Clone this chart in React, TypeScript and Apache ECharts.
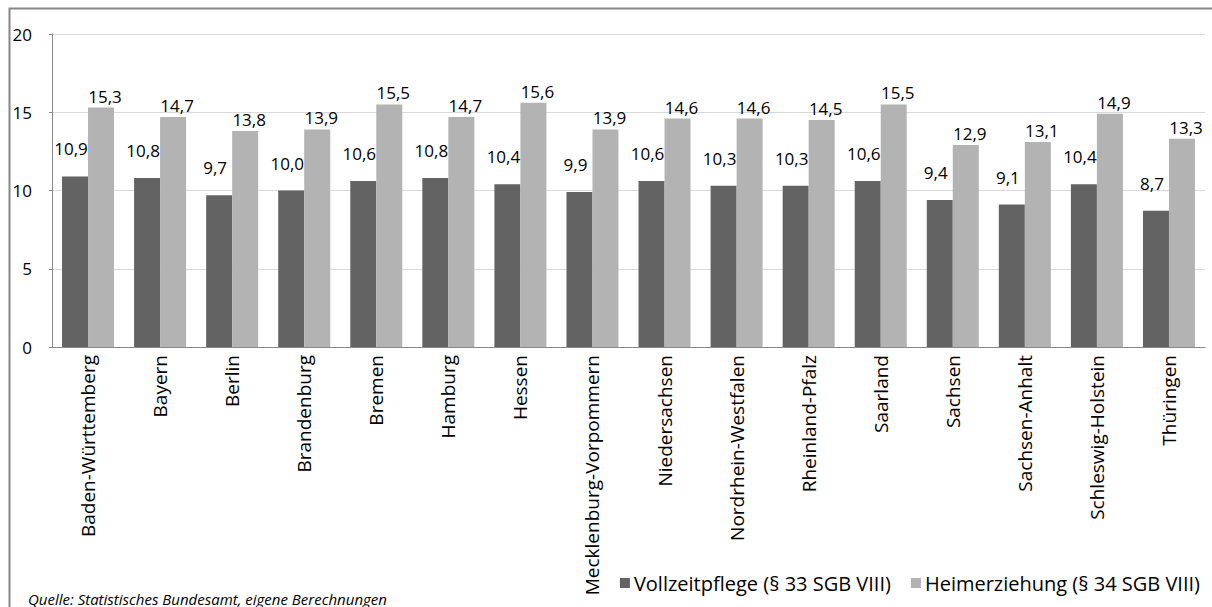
import React, { useEffect, useRef } from "react";
import * as echarts from "echarts";

const categories = [
  "Baden-Württemberg", "Bayern", "Berlin", "Brandenburg", "Bremen", "Hamburg", "Hessen",
  "Mecklenburg-Vorpommern", "Niedersachsen", "Nordrhein-Westfalen", "Rheinland-Pfalz",
  "Saarland", "Sachsen", "Sachsen-Anhalt", "Schleswig-Holstein", "Thüringen",
];
const vollzeitpflege = [10.9, 10.8, 9.7, 10.0, 10.6, 10.8, 10.4, 9.9, 10.6, 10.3, 10.3, 10.6, 9.4, 9.1, 10.4, 8.7];
const heimerziehung = [15.3, 14.7, 13.8, 13.9, 15.5, 14.7, 15.6, 13.9, 14.6, 14.6, 14.5, 15.5, 12.9, 13.1, 14.9, 13.3];
const seriesNames = ["Vollzeitpflege (§ 33 SGB VIII)", "Heimerziehung (§ 34 SGB VIII)"];
const sourceNote = "Quelle: Statistisches Bundesamt, eigene Berechnungen";

const FONT = "Open Sans";

export default function App() {
  const ref = useRef<HTMLDivElement>(null);
  useEffect(() => {
    if (!ref.current) return;
    const chart = echarts.init(ref.current, null, { renderer: "svg" });
    const fmt = (p: any) => Number(p.value).toFixed(1).replace(".", ",");
    chart.setOption({
      animation: false,
      backgroundColor: "#ffffff",
      textStyle: { fontFamily: FONT },
      grid: { left: 52, right: 7, top: 34, bottom: 260, containLabel: false },
      legend: {
        right: 7,
        bottom: 9,
        itemWidth: 10,
        itemHeight: 10,
        itemGap: 20,
        icon: "rect",
        textStyle: { fontFamily: FONT, fontSize: 20, color: "#000", padding: [0, 0, 0, -1] },
        data: seriesNames,
      },
      xAxis: {
        type: "category",
        data: categories,
        axisLine: { lineStyle: { color: "#898989" } },
        axisTick: { show: false },
        axisLabel: { rotate: 90, margin: 8, fontSize: 19, color: "#000", fontFamily: FONT, interval: 0 },
      },
      yAxis: {
        type: "value",
        min: 0,
        max: 20,
        interval: 5,
        axisLine: { show: true, lineStyle: { color: "#898989" } },
        axisTick: { show: true, length: 3, lineStyle: { color: "#898989" } },
        axisLabel: { margin: 20, fontSize: 17, color: "#000", fontFamily: FONT },
        splitLine: { lineStyle: { color: "#d9d9d9" } },
      },
      series: [
        {
          name: seriesNames[0],
          type: "bar",
          data: vollzeitpflege,
          barWidth: 26,
          barGap: "0%",
          itemStyle: { color: "#636363" },
          label: { show: true, position: "top", distance: 19, offset: [-4, 0], formatter: fmt, fontSize: 17, color: "#000", fontFamily: FONT },
        },
        {
          name: seriesNames[1],
          type: "bar",
          data: heimerziehung,
          barWidth: 26,
          barGap: "0%",
          itemStyle: { color: "#b3b3b3" },
          label: { show: true, position: "top", distance: 3, offset: [4, 0], formatter: fmt, fontSize: 17, color: "#000", fontFamily: FONT },
        },
      ],
      graphic: [
        {
          type: "rect",
          left: 7,
          top: 6,
          shape: { x: 0, y: 0, width: 1215, height: 610 },
          style: { fill: "none", stroke: "#868686", lineWidth: 2 },
          silent: true,
          z: 100,
        },
        {
          type: "text",
          left: 28,
          top: 591,
          style: { text: sourceNote, font: `italic 15px '${FONT}'`, fill: "#000" },
        },
      ],
    });
    return () => chart.dispose();
  }, []);
  return (
    <div
      ref={ref}
      style={{ position: "fixed", left: 0, top: 0, width: 1212, height: 607, background: "#fff" }}
    />
  );
}
